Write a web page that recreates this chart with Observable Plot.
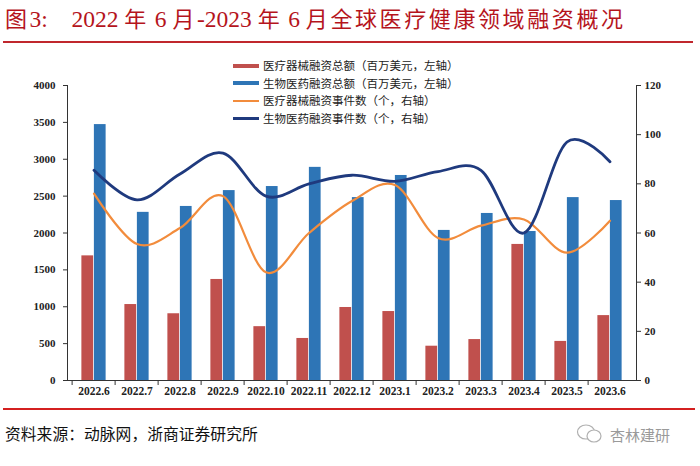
<!DOCTYPE html>
<html>
<head>
<meta charset="utf-8">
<script src="https://cdn.jsdelivr.net/npm/d3@7"></script>
<script src="https://cdn.jsdelivr.net/npm/@observablehq/plot@0.6"></script>
<style>
  html, body { margin: 0; padding: 0; background: #fff; }
  #wrap { position: relative; width: 700px; height: 466px; overflow: hidden; background: #fff; }
  #title { position: absolute; left: 5px; top: 2px; font-size: 23.5px; color: #B5141C; white-space: pre;
           font-family: "Liberation Serif", "Noto Sans CJK SC", serif; line-height: 30px; }
  #title .cjk { font-family: "Noto Sans CJK SC", sans-serif; font-size: 22px; letter-spacing: 2.6px; }
  #topline { position: absolute; left: 3px; top: 41px; width: 690px; height: 1.5px; background: #C0272D; }
  #chart { position: absolute; left: 0; top: 44px; }
  #legend { position: absolute; left: 233px; top: 57px; font-family: "Noto Sans CJK SC", sans-serif;
            font-size: 11.5px; color: #222; line-height: 17.5px; }
  #legend .row { display: flex; align-items: center; }
  #legend .sw { width: 26px; margin-right: 4px; }
  #botline { position: absolute; left: 3px; top: 408px; width: 692px; height: 1.5px; background: #D42020; }
  #source { position: absolute; left: 5px; top: 422px; font-family: "Noto Sans CJK SC", sans-serif;
            font-size: 15.8px; color: #111; }
  #mark { position: absolute; left: 576px; top: 423px; font-family: "Noto Sans CJK SC", sans-serif;
          font-size: 15px; color: #9a9a9a; display: flex; align-items: center; }
</style>
</head>
<body>
<div id="wrap">
  <div id="title"><span class="cjk">图</span>3:    2022 <span class="cjk">年</span> 6 <span class="cjk">月</span>-2023 <span class="cjk">年</span> 6 <span class="cjk">月全球医疗健康领域融资概况</span></div>
  <div id="topline"></div>
  <div id="chart"></div>
  <div id="legend"></div>
  <div id="botline"></div>
  <div id="source">资料来源：动脉网，浙商证券研究所</div>
  <div id="mark"><svg width="28" height="22" viewBox="0 0 28 22" style="margin-right:6px">
    <ellipse cx="10" cy="9" rx="8.5" ry="7" fill="none" stroke="#b0b0b0" stroke-width="1.2"/>
    <ellipse cx="18" cy="13" rx="7" ry="6" fill="#fff" stroke="#b0b0b0" stroke-width="1.2"/>
  </svg>杏林建研</div>
</div>
<script>
const months = ["2022.6","2022.7","2022.8","2022.9","2022.10","2022.11","2022.12","2023.1","2023.2","2023.3","2023.4","2023.5","2023.6"];
const deviceAmount = [1690, 1030, 905, 1370, 730, 570, 990, 935, 465, 555, 1845, 530, 880];
const bioAmount    = [3470, 2280, 2360, 2575, 2630, 2890, 2480, 2780, 2035, 2265, 2020, 2480, 2440];
const deviceEvents = [76, 55.5, 62, 75, 44, 60, 73, 79.5, 58, 63, 65.5, 52, 65];
const bioEvents    = [85.5, 73.5, 84, 92.5, 75, 80, 83.5, 81, 85, 85.5, 60, 97, 89];
const leftTicks = [0, 500, 1000, 1500, 2000, 2500, 3000, 3500, 4000];
const rightTicks = [0, 20, 40, 60, 80, 100, 120];
const seriesNames = [
  "医疗器械融资总额（百万美元，左轴）",
  "生物医药融资总额（百万美元，左轴）",
  "医疗器械融资事件数（个，右轴）",
  "生物医药融资事件数（个，右轴）"
];
const colors = ["#C0504D", "#2E75B6", "#F28C3C", "#1F3A7E"];

const k = 4000 / 120;
const data = months.map((m, i) => ({
  m, dev: deviceAmount[i], bio: bioAmount[i],
  devE: deviceEvents[i] * k, bioE: bioEvents[i] * k
}));

const W = 700, H = 356, mL = 67, mR = 64, mT = 41, mB = 20;
const bw = (W - mL - mR) / months.length;
const barW = 12.5;
const font = "Liberation Serif, Times New Roman, serif";

const chart = Plot.plot({
  width: W, height: H,
  marginTop: mT, marginBottom: mB, marginLeft: mL, marginRight: mR,
  style: { fontFamily: font, background: "transparent", color: "#222" },
  x: { type: "band", domain: months, padding: 0, axis: null },
  y: { domain: [0, 4000], axis: null },
  marks: [
    Plot.barY(data, { x: "m", y: "dev", fill: colors[0], insetLeft: bw / 2 - barW, insetRight: bw / 2 }),
    Plot.barY(data, { x: "m", y: "bio", fill: colors[1], insetLeft: bw / 2, insetRight: bw / 2 - barW }),
    Plot.line(data, { x: "m", y: "devE", stroke: colors[2], strokeWidth: 2.2, curve: "cardinal", tension: 0 }),
    Plot.line(data, { x: "m", y: "bioE", stroke: colors[3], strokeWidth: 2.8, curve: "cardinal", tension: 0 }),
    Plot.frame({ anchor: "left", stroke: "#333" }),
    Plot.frame({ anchor: "right", stroke: "#333" }),
    Plot.frame({ anchor: "bottom", stroke: "#333" }),
    Plot.axisY({ ticks: leftTicks, tickFormat: d => String(d), tickSize: 4, tickPadding: 8, label: null, fontSize: 11, fontWeight: "bold", stroke: "#333" }),
    Plot.axisY({ anchor: "right", ticks: rightTicks.map(t => t * k), tickFormat: d => String(Math.round(d / k)),
                 tickSize: 4, tickPadding: 4, label: null, fontSize: 11, fontWeight: "bold", stroke: "#333" }),
    Plot.axisX({ ticks: months, tickSize: 5, tickFormat: () => "", label: null, dx: -bw / 2, stroke: "#333" }),
    Plot.axisX({ ticks: months, tickSize: 0, tickPadding: 6, label: null, fontSize: 11.5, fontWeight: "bold" })
  ]
});
document.getElementById("chart").appendChild(chart);

const legend = document.getElementById("legend");
seriesNames.forEach((name, i) => {
  const row = document.createElement("div");
  row.className = "row";
  const sw = document.createElement("div");
  sw.className = "sw";
  sw.style.height = i < 2 ? "4px" : (i === 2 ? "2px" : "2.5px");
  sw.style.background = colors[i];
  const t = document.createElement("span");
  t.textContent = name;
  row.appendChild(sw);
  row.appendChild(t);
  legend.appendChild(row);
});
</script>
</body>
</html>
